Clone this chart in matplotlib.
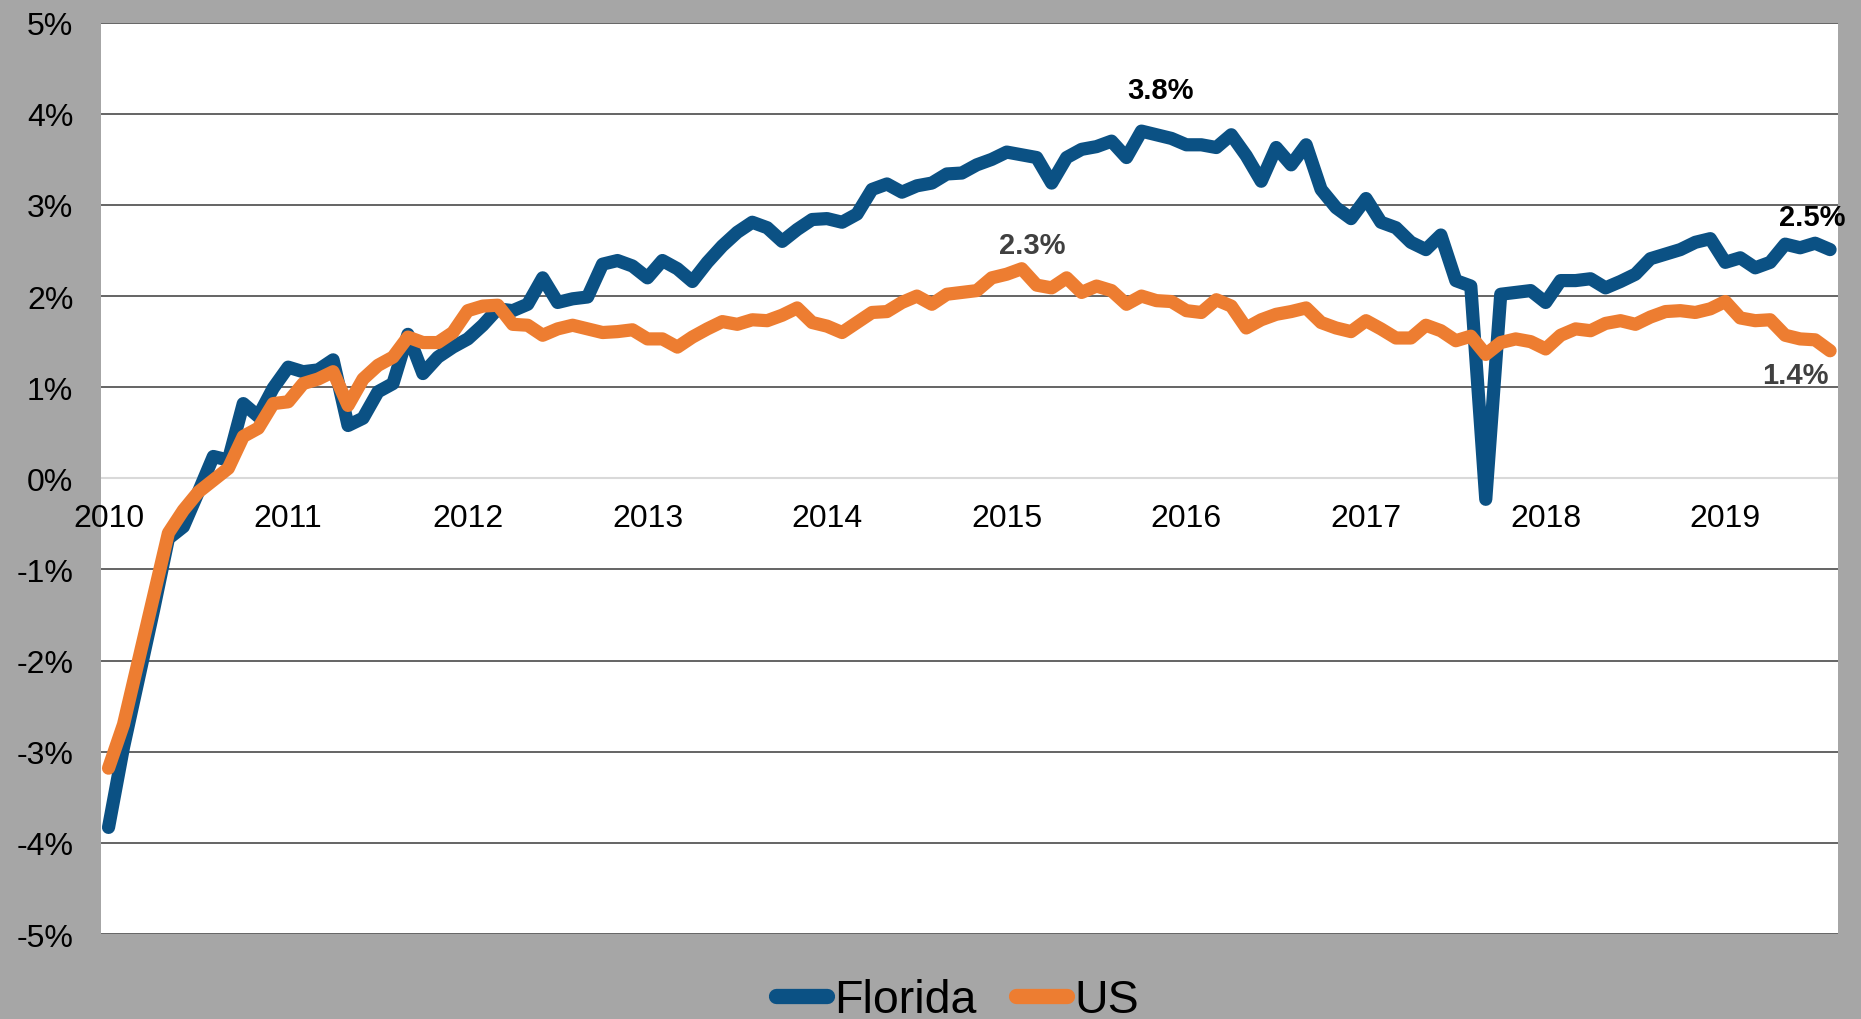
import numpy as np
import matplotlib
matplotlib.use("Agg")
import matplotlib.pyplot as plt
from matplotlib.ticker import PercentFormatter

plt.rcParams['font.family'] = ['Liberation Sans', 'DejaVu Sans']
plt.rcParams['axes.unicode_minus'] = False

# monthly year-over-year job growth, Jan 2010 - Aug 2019 (%)
florida = [-3.83, -2.95, -2.20, -1.45, -0.66, -0.53, -0.15, 0.24, 0.20, 0.82,
           0.68, 0.99, 1.22, 1.17, 1.19, 1.30, 0.58, 0.66, 0.95, 1.04,
           1.58, 1.15, 1.33, 1.44, 1.53, 1.68, 1.86, 1.84, 1.91, 2.20,
           1.93, 1.97, 1.99, 2.35, 2.39, 2.33, 2.20, 2.39, 2.30, 2.16,
           2.37, 2.55, 2.70, 2.81, 2.75, 2.60, 2.73, 2.84, 2.85, 2.81,
           2.90, 3.17, 3.23, 3.14, 3.21, 3.24, 3.34, 3.35, 3.44, 3.50,
           3.58, 3.55, 3.52, 3.24, 3.52, 3.61, 3.64, 3.70, 3.52, 3.81,
           3.77, 3.73, 3.66, 3.66, 3.63, 3.77, 3.54, 3.26, 3.63, 3.44,
           3.66, 3.17, 2.97, 2.85, 3.07, 2.81, 2.75, 2.59, 2.51, 2.67,
           2.17, 2.11, -0.23, 2.02, 2.04, 2.06, 1.93, 2.17, 2.17, 2.19,
           2.09, 2.16, 2.24, 2.41, 2.46, 2.51, 2.59, 2.63, 2.37, 2.42,
           2.31, 2.37, 2.57, 2.53, 2.58, 2.51]
us = [-3.18, -2.70, -2.00, -1.30, -0.60, -0.35, -0.15, -0.02, 0.11, 0.46,
      0.55, 0.82, 0.84, 1.04, 1.09, 1.17, 0.80, 1.09, 1.24, 1.33,
      1.55, 1.49, 1.49, 1.60, 1.84, 1.89, 1.90, 1.69, 1.68, 1.57,
      1.64, 1.68, 1.64, 1.60, 1.61, 1.63, 1.53, 1.53, 1.44, 1.55,
      1.64, 1.72, 1.69, 1.74, 1.73, 1.79, 1.87, 1.71, 1.67, 1.60,
      1.71, 1.82, 1.83, 1.93, 2.00, 1.91, 2.02, 2.04, 2.06, 2.20,
      2.24, 2.30, 2.12, 2.09, 2.20, 2.04, 2.11, 2.06, 1.91, 2.00,
      1.95, 1.94, 1.84, 1.82, 1.96, 1.89, 1.65, 1.74, 1.80, 1.83,
      1.87, 1.71, 1.65, 1.61, 1.73, 1.64, 1.54, 1.54, 1.68, 1.62,
      1.51, 1.56, 1.36, 1.49, 1.53, 1.50, 1.42, 1.57, 1.64, 1.62,
      1.70, 1.73, 1.69, 1.77, 1.83, 1.84, 1.82, 1.86, 1.94, 1.76,
      1.73, 1.74, 1.57, 1.53, 1.52, 1.40]
years = [str(y) for y in range(2010, 2020)]

# callouts: text, month index, value position, colour
labels = [('3.8%', 70.3, 4.26, 'black'),
          ('2.3%', 61.7, 2.56, '#404040'),
          ('2.5%', 113.8, 2.87, 'black'),
          ('1.4%', 112.7, 1.13, '#404040')]

months = np.arange(len(florida))

fig = plt.figure(figsize=(18.61, 10.20), dpi=100, facecolor='#A6A6A6')
ax = fig.add_axes([0.0543, 0.0833, 0.9331, 0.8935])
ax.set_facecolor('white')

ax.plot(months, florida, color='#0B5184', lw=9.5, label='Florida',
        solid_capstyle='round', solid_joinstyle='round', zorder=3)
ax.plot(months, us, color='#ED7D31', lw=9.5, label='US',
        solid_capstyle='round', solid_joinstyle='round', zorder=4)

ax.set_xlim(-0.5, len(florida) - 0.5)
ax.set_ylim(-5, 5)
ax.set_yticks(range(-5, 6))
ax.yaxis.set_major_formatter(PercentFormatter(decimals=0))
ax.set_xticks(np.arange(0, len(florida), 12))
ax.set_xticklabels(years)

ax.yaxis.grid(True, color='#3a3a3a', lw=1.1)
ax.get_ygridlines()[5].set_color('#d9d9d9')
ax.get_ygridlines()[5].set_linewidth(1.5)
ax.set_axisbelow(True)

for s in ['top', 'right', 'left']:
    ax.spines[s].set_visible(False)
ax.spines['bottom'].set_position(('data', 0))
ax.spines['bottom'].set_visible(False)
ax.tick_params(axis='y', length=0, pad=20, labelsize=23, labelcolor='black')
ax.tick_params(axis='x', length=0, pad=18, labelsize=23, labelcolor='black')

for txt, xi, yv, c in labels:
    ax.text(xi, yv, txt, ha='center', va='center', fontsize=21,
            fontweight='bold', color=c, zorder=5)

leg = ax.legend(loc='center', bbox_to_anchor=(0.5143, 0.0186),
                bbox_transform=fig.transFigure, ncol=2, frameon=False,
                fontsize=33.5, handlelength=1.1, handletextpad=0.15,
                columnspacing=0.85, borderpad=0)
for ln in leg.get_lines():
    ln.set_linewidth(11)

fig.savefig('out.png', dpi=100, facecolor=fig.get_facecolor())
